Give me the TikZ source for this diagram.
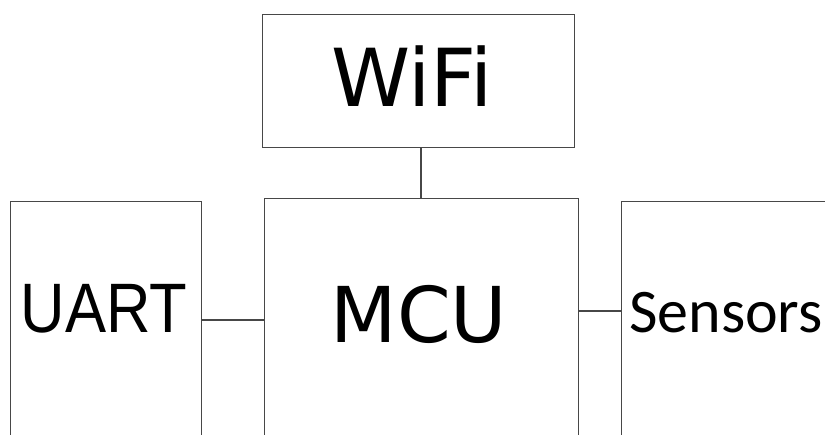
\documentclass[tikz,border=0pt]{standalone}
\usepackage{fontspec}
\setmainfont{DejaVu Sans}
\newfontfamily\sensfont{Carlito}
\newfontfamily\uartfont{Liberation Sans}
\begin{document}
\begin{tikzpicture}[x=1pt,y=-1pt,
  blk/.style={draw=black!72, line width=1.4pt, anchor=north west, inner sep=0pt},
  wire/.style={draw=black!72, line width=1.4pt},
  lbl/.style={anchor=base, inner sep=0pt}]
\useasboundingbox (0,0) rectangle (825,435);
\clip (0,0) rectangle (825,435);
\node[blk, minimum width=312pt, minimum height=133pt] (wifi) at (262,14) {};
\node[blk, minimum width=314pt, minimum height=300pt] (mcu) at (264,198) {};
\node[blk, minimum width=191pt, minimum height=300pt] (uart) at (10,201) {};
\node[blk, minimum width=300pt, minimum height=300pt] (sens) at (621,201) {};
\node[lbl, font=\fontsize{80}{80}\selectfont] (twifi) at (412,107) {WiFi};
\node[lbl, font=\fontsize{77}{77}\selectfont] (tmcu) at (419,343) {MCU};
\node[lbl, font=\uartfont\fontsize{70}{70}\selectfont, xscale=0.88] (tuart) at (104,333) {UART};
\node[lbl, font=\sensfont\fontsize{62}{62}\selectfont] (tsens) at (726,333) {Sensors};
\draw[wire] (wifi.south -| 421,0) -- (mcu.north -| 421,0);
\draw[wire] (uart.east |- 0,320) -- (mcu.west |- 0,320);
\draw[wire] (mcu.east |- 0,311) -- (sens.west |- 0,311);
\end{tikzpicture}
\end{document}
